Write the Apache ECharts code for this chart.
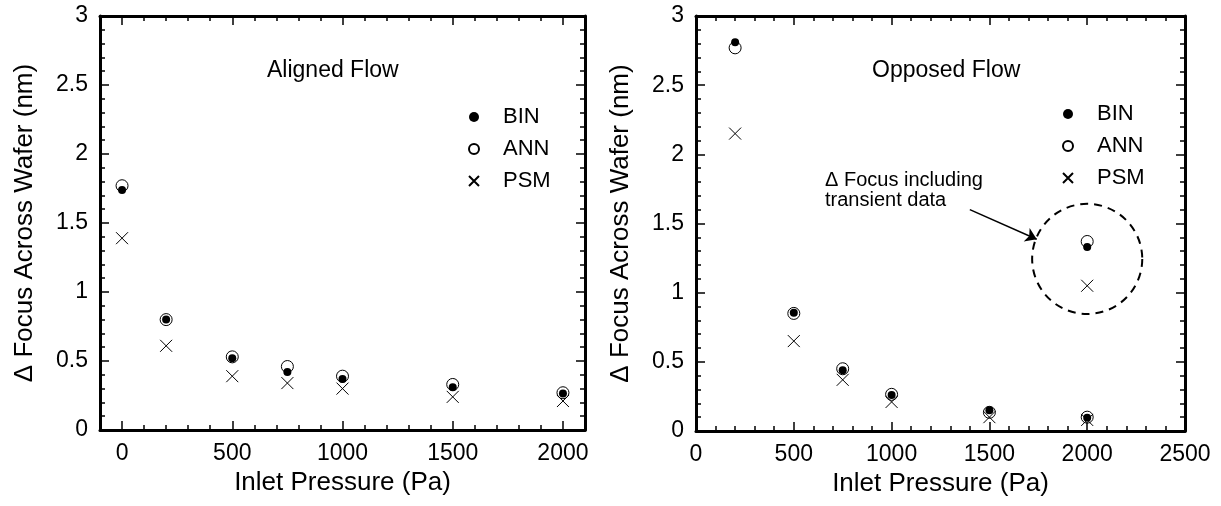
<!DOCTYPE html>
<html>
<head>
<meta charset="utf-8">
<script src="https://cdn.jsdelivr.net/npm/echarts@6/dist/echarts.min.js"></script>
<style>html,body{margin:0;padding:0;background:#fff}#c{width:1221px;height:506px}</style>
</head>
<body>
<div id="c"></div>
<script>
// ---- data ----
var leftX  = [0, 200, 500, 750, 1000, 1500, 2000];
var leftBIN = [1.74, 0.80, 0.52, 0.42, 0.37, 0.31, 0.265];
var leftANN = [1.77, 0.80, 0.53, 0.46, 0.39, 0.33, 0.27];
var leftPSM = [1.39, 0.61, 0.39, 0.34, 0.30, 0.24, 0.21];

var rightX  = [200, 500, 750, 1000, 1500, 2000, 2000];
var rightBIN = [2.81, 0.855, 0.44, 0.26, 0.15, 0.095, 1.33];
var rightANN = [2.77, 0.85, 0.45, 0.265, 0.135, 0.10, 1.37];
var rightPSM = [2.15, 0.65, 0.37, 0.21, 0.10, 0.08, 1.05];

var leftXTicks = [0, 500, 1000, 1500, 2000];
var seriesNames = ['BIN', 'ANN', 'PSM'];
var panelTitles = ['Aligned Flow', 'Opposed Flow'];
var noteText = '\u0394 Focus including\ntransient data';
var xName = 'Inlet Pressure (Pa)';
var yName = '\u0394 Focus Across Wafer (nm)';
// annotation: dashed circle [x, y, radius(y units)], arrow [from, to]
var noteCircle = [[2000, 1.244, 0.398]];
var noteArrow = [[1400, 1.60], [1742, 1.386]];

function pairs(xs, ys) { return xs.map(function (x, i) { return [x, ys[i]]; }); }

var FONT = 'Liberation Sans, Arial, Helvetica, sans-serif';
var crossPath = 'path://M0,0L10,10M10,0L0,10';
var TICK = { color: '#000', width: 1.5 };
function plainNum(v) { return String(v); }

function yAxisDef(grid, pos, withLabels) {
  return {
    type: 'value', gridIndex: grid, position: pos, min: 0, max: 3, interval: 0.5,
    axisLine: { show: true, onZero: false, lineStyle: { color: '#000', width: 3 } },
    axisTick: { show: true, inside: true, length: 9, lineStyle: TICK },
    minorTick: { show: true, splitNumber: 5, length: 5, lineStyle: TICK },
    axisLabel: { show: withLabels, fontSize: 23, color: '#000', margin: 12, fontFamily: FONT, formatter: plainNum },
    splitLine: { show: false },
    name: withLabels ? yName : '', nameLocation: 'middle', nameGap: 62, nameRotate: 90,
    nameTextStyle: { fontSize: 26, color: '#000', fontFamily: FONT }
  };
}

var xAxes = [
  // left grid: major bottom
  { type: 'value', gridIndex: 0, position: 'bottom', min: -100, max: 2100,
    axisLine: { show: true, onZero: false, lineStyle: { color: '#000', width: 3 } },
    axisTick: { show: true, inside: true, length: 9, customValues: leftXTicks, lineStyle: TICK },
    axisLabel: { show: true, customValues: leftXTicks, fontSize: 23, color: '#000', margin: 12, fontFamily: FONT, formatter: plainNum },
    splitLine: { show: false },
    name: xName, nameLocation: 'middle', nameGap: 40,
    nameTextStyle: { fontSize: 26, color: '#000', fontFamily: FONT } },
  // left grid: minor bottom
  { type: 'value', gridIndex: 0, position: 'bottom', min: -100, max: 2100, interval: 100,
    axisLine: { show: false, onZero: false },
    axisTick: { show: true, inside: true, length: 5, lineStyle: TICK },
    axisLabel: { show: false }, splitLine: { show: false } },
  // left grid: major top
  { type: 'value', gridIndex: 0, position: 'top', min: -100, max: 2100,
    axisLine: { show: true, onZero: false, lineStyle: { color: '#000', width: 3 } },
    axisTick: { show: true, inside: true, length: 9, customValues: leftXTicks, lineStyle: TICK },
    axisLabel: { show: false }, splitLine: { show: false } },
  // left grid: minor top
  { type: 'value', gridIndex: 0, position: 'top', min: -100, max: 2100, interval: 100,
    axisLine: { show: false, onZero: false },
    axisTick: { show: true, inside: true, length: 5, lineStyle: TICK },
    axisLabel: { show: false }, splitLine: { show: false } },
  // right grid bottom
  { type: 'value', gridIndex: 1, position: 'bottom', min: 0, max: 2500, interval: 500,
    axisLine: { show: true, onZero: false, lineStyle: { color: '#000', width: 3 } },
    axisTick: { show: true, inside: true, length: 9, lineStyle: TICK },
    minorTick: { show: true, splitNumber: 5, length: 5, lineStyle: TICK },
    axisLabel: { show: true, fontSize: 23, color: '#000', margin: 12, fontFamily: FONT, formatter: plainNum },
    splitLine: { show: false },
    name: xName, nameLocation: 'middle', nameGap: 40,
    nameTextStyle: { fontSize: 26, color: '#000', fontFamily: FONT } },
  // right grid top
  { type: 'value', gridIndex: 1, position: 'top', min: 0, max: 2500, interval: 500,
    axisLine: { show: true, onZero: false, lineStyle: { color: '#000', width: 3 } },
    axisTick: { show: true, inside: true, length: 9, lineStyle: TICK },
    minorTick: { show: true, splitNumber: 5, length: 5, lineStyle: TICK },
    axisLabel: { show: false }, splitLine: { show: false } }
];

var yAxes = [yAxisDef(0, 'left', true), yAxisDef(0, 'right', false), yAxisDef(1, 'left', true), yAxisDef(1, 'right', false)];

function markSeries(name, data, xi, yi) {
  var s = { name: name, type: 'scatter', xAxisIndex: xi, yAxisIndex: yi, data: data, silent: true };
  if (name === 'BIN') {
    s.symbol = 'circle'; s.symbolSize = 8; s.z = 4;
    s.itemStyle = { color: '#000', borderWidth: 0, opacity: 1 };
  } else if (name === 'ANN') {
    s.symbol = 'circle'; s.symbolSize = 12; s.z = 3;
    s.itemStyle = { color: 'transparent', borderColor: '#000', borderWidth: 1, opacity: 1 };
  } else {
    s.symbol = crossPath; s.symbolSize = 12; s.z = 2;
    s.itemStyle = { color: 'transparent', borderColor: '#000', borderWidth: 1, opacity: 1 };
  }
  return s;
}

var series = [
  markSeries('PSM', pairs(leftX, leftPSM), 0, 0),
  markSeries('ANN', pairs(leftX, leftANN), 0, 0),
  markSeries('BIN', pairs(leftX, leftBIN), 0, 0),
  markSeries('PSM', pairs(rightX, rightPSM), 4, 2),
  markSeries('ANN', pairs(rightX, rightANN), 4, 2),
  markSeries('BIN', pairs(rightX, rightBIN), 4, 2),
  {
    type: 'custom', xAxisIndex: 4, yAxisIndex: 2, data: noteCircle, silent: true, z: 1,
    renderItem: function (params, api) {
      var c = api.coord([api.value(0), api.value(1)]);
      var r = api.size([0, api.value(2)])[1];
      return { type: 'circle', shape: { cx: c[0], cy: c[1], r: r },
        style: { fill: 'none', stroke: '#000', lineWidth: 2, lineDash: [8, 6] } };
    },
    markLine: {
      silent: true, symbol: ['none', 'arrow'], symbolSize: 11,
      label: { show: false },
      lineStyle: { color: '#000', width: 1.5, type: 'solid' },
      data: [[{ coord: noteArrow[0] }, { coord: noteArrow[1] }]]
    }
  }
];

var legendCommon = {
  orient: 'vertical', itemWidth: 10, itemHeight: 10, itemGap: 10, selectedMode: false,
  data: seriesNames,
  textStyle: { fontSize: 22, color: '#000', fontFamily: FONT, lineHeight: 22, padding: [0, 0, 0, 19] }
};

var option = {
  animation: false,
  backgroundColor: '#fff',
  textStyle: { fontFamily: FONT },
  grid: [
    { left: 100, top: 16, width: 485, height: 414 },
    { left: 696, top: 16, width: 489, height: 415 }
  ],
  xAxis: xAxes,
  yAxis: yAxes,
  legend: [
    Object.assign({}, legendCommon, { left: 463, top: 101 }),
    Object.assign({}, legendCommon, { left: 1057, top: 98 })
  ],
  graphic: [
    { type: 'text', x: 267, y: 71, silent: true,
      style: { text: panelTitles[0], fontSize: 23, fontFamily: FONT, fill: '#000', verticalAlign: 'middle' } },
    { type: 'text', x: 872, y: 71, silent: true,
      style: { text: panelTitles[1], fontSize: 23, fontFamily: FONT, fill: '#000', verticalAlign: 'middle' } },
    { type: 'text', x: 825, y: 170, silent: true,
      style: { text: noteText, fontSize: 20, lineHeight: 20, fontFamily: FONT, fill: '#000', verticalAlign: 'top' } }
  ],
  series: series
};

var chart = echarts.init(document.getElementById('c'), null, { renderer: 'canvas' });
chart.setOption(option);
</script>
</body>
</html>
